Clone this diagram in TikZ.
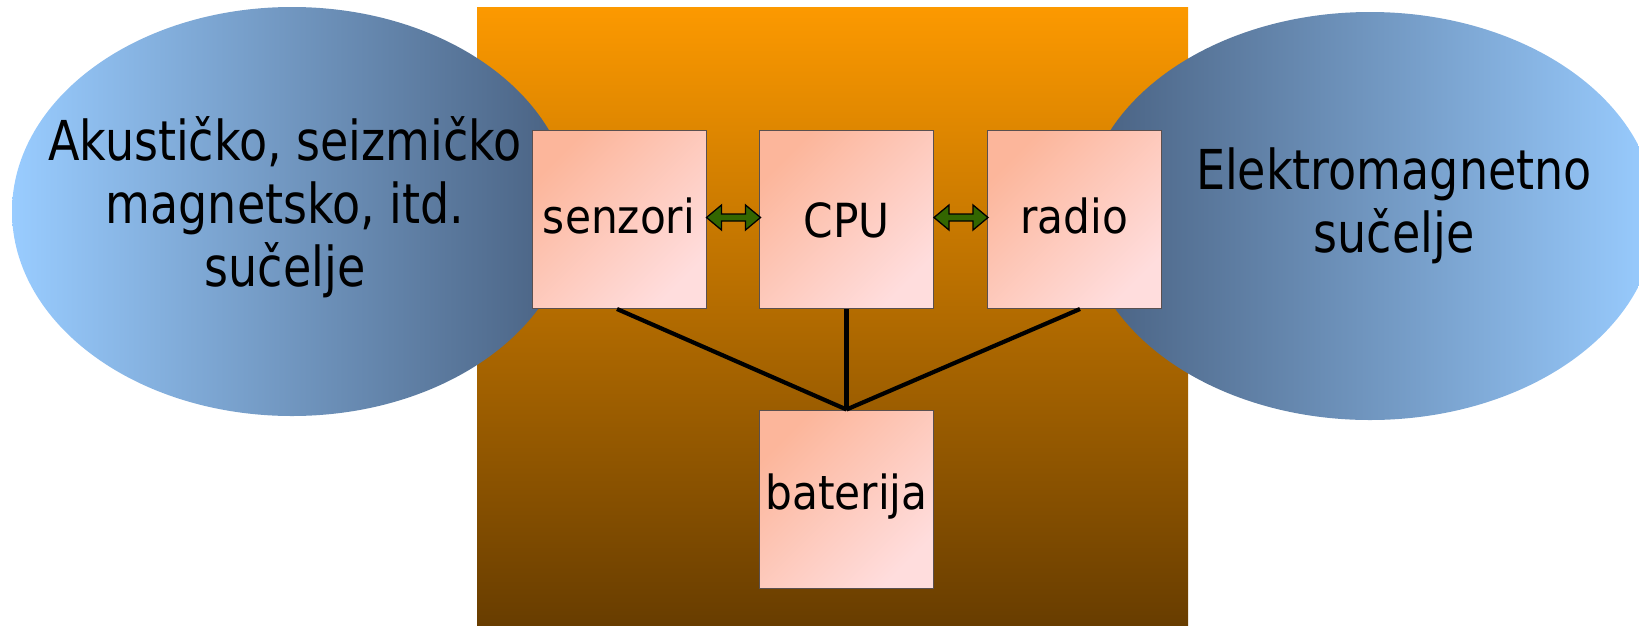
\documentclass[tikz,border=0pt]{standalone}
\usepackage{fontspec}
\setmainfont{DejaVu Sans Condensed}
\newfontfamily\ifacefont{DejaVu Sans Condensed}[FakeStretch=0.93]
\usetikzlibrary{calc,shapes.geometric}

\definecolor{orangetop}{RGB}{252,153,0}
\definecolor{orangemid}{RGB}{196,117,0}
\definecolor{orangebot}{RGB}{104,61,0}
\definecolor{skylight}{RGB}{153,204,255}
\definecolor{skydark}{RGB}{72,96,128}
\definecolor{boxtl}{RGB}{252,182,155}
\definecolor{boxbr}{RGB}{255,221,221}
\definecolor{boxedge}{RGB}{90,80,80}
\definecolor{arrowgreen}{RGB}{51,102,0}

\tikzset{
  iface/.style={ellipse, inner sep=0pt},
  ifacetext/.style={align=center, inner sep=0pt,
    font=\ifacefont\fontsize{55pt}{63pt}\selectfont},
  unit/.style={draw=boxedge, line width=1pt, inner sep=0pt,
    minimum width=174pt, minimum height=178pt,
    top color=boxtl, bottom color=boxbr, shading angle=45,
    font=\fontsize{47pt}{56pt}\selectfont,
    text height=35pt, text depth=8pt},
  wire/.style={line width=4.2pt},
  biarrow/.style={draw=black, line width=1.3pt, fill=arrowgreen, line join=miter}
}

\begin{document}
\begin{tikzpicture}[x=1pt, y=-1pt]
\useasboundingbox (0,0) rectangle (1639,625);
\clip (0,0) rectangle (1639,625);

% node body: orange background block
\shade[top color=orangetop, middle color=orangemid, bottom color=orangebot]
  (477,7) rectangle (1188,625);

% interfaces on both sides
\node[iface, minimum width=560pt, minimum height=409pt,
      left color=skylight, right color=skydark] (leftif) at (292,211.5) {};
\node[iface, minimum width=572pt, minimum height=408pt,
      left color=skydark, right color=skylight] (rightif) at (1370,216) {};
\node[ifacetext] (lefttxt) at (285,207) {Akustičko, seizmičko\\magnetsko, itd.\\sučelje};
\node[ifacetext] (righttxt) at (1394,206) {Elektromagnetno\\sučelje};

% components
\node[unit] (senzori) at (619,219.5) {senzori};
\node[unit, text height=39pt, text depth=4pt] (cpu) at (846.5,219.5) {CPU};
\node[unit] (radio) at (1074,219.5) {radio};
\node[unit, text height=32pt, text depth=12pt] (baterija) at (846.5,499) {baterija};

% power wiring
\draw[wire] ([xshift=-2pt]senzori.south) -- (baterija.north);
\draw[wire] (cpu.south) -- (baterija.north);
\draw[wire] ([xshift=6pt]radio.south) -- (baterija.north);

% data links
\draw[biarrow] ([yshift=2pt]senzori.east) -- ++(15,-12.5) -- ++(0,9) -- ++(24,0)
  -- ++(0,-9) -- ++(15,12.5) -- ++(-15,12.5) -- ++(0,-9) -- ++(-24,0) -- ++(0,9) -- cycle;
\draw[biarrow] ([yshift=2pt]cpu.east) -- ++(15,-12.5) -- ++(0,9) -- ++(24,0)
  -- ++(0,-9) -- ++(15,12.5) -- ++(-15,12.5) -- ++(0,-9) -- ++(-24,0) -- ++(0,9) -- cycle;
\end{tikzpicture}
\end{document}
